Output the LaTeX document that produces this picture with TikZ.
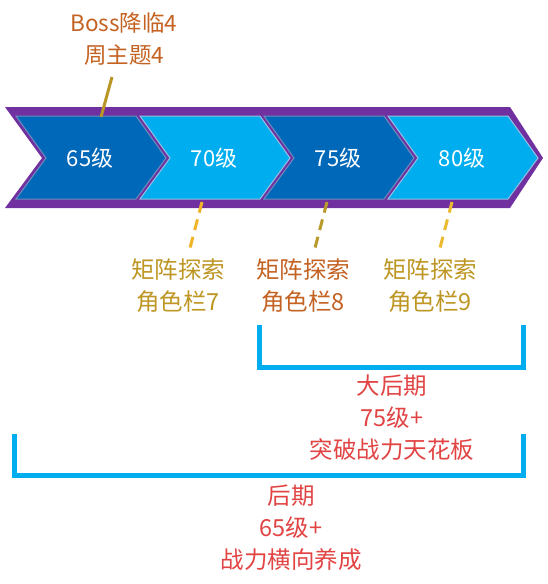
\documentclass[tikz,border=0pt]{standalone}
\usepackage{fontspec}
\setmainfont{Noto Sans CJK SC}
\definecolor{bandpurple}{RGB}{112,48,160}
\definecolor{chdark}{RGB}{0,104,184}
\definecolor{chdarkedge}{RGB}{110,140,190}
\definecolor{chlight}{RGB}{0,174,239}
\definecolor{chlightedge}{RGB}{150,190,225}
\definecolor{bossbrown}{RGB}{196,98,34}
\definecolor{goldtxt}{RGB}{190,150,35}
\definecolor{redtxt}{RGB}{226,68,68}
\definecolor{bossline}{RGB}{184,150,40}
\definecolor{dashA}{RGB}{240,180,40}
\definecolor{dashB}{RGB}{184,154,42}
\definecolor{dashC}{RGB}{236,186,48}
\definecolor{brblue}{RGB}{0,174,239}
\begin{document}
\begin{tikzpicture}[x=1pt,y=-1pt,
  every node/.style={inner sep=0pt,align=center,font=\fontsize{23.5}{32}\selectfont},
  chevdark/.style={fill=chdark,draw=chdarkedge,line width=1pt},
  chevlight/.style={fill=chlight,draw=chlightedge,line width=1pt},
  chevtext/.style={text=white,font=\fontsize{22}{32}\selectfont},
  bosscol/.style={text=bossbrown,font=\fontsize{22.5}{32}\selectfont},
  goldtext/.style={text=goldtxt},
  browntext/.style={text=bossbrown},
  redtext/.style={text=redtxt},
  dashline/.style={line width=3pt,dash pattern=on 11pt off 7pt},
  bracket/.style={draw=brblue,line width=5pt}]
\useasboundingbox (0,0) rectangle (548,584);
\fill[white] (0,0) rectangle (548,584);
% purple band
\fill[bandpurple] (5,107) -- (510,107) -- (543,158) -- (510,208) -- (5,208) -- (42,158) -- cycle;
% chevrons
\foreach \L/\st in {16/chevdark,140/chevlight,264/chevdark,388/chevlight}{
  \draw[\st] (\L,116) -- (\L+120,116) -- (\L+150,158) -- (\L+120,199) -- (\L,199) -- (\L+30,158) -- cycle;
}
\node[chevtext] (c65) at (90,158) {65级};
\node[chevtext] (c70) at (214,158) {70级};
\node[chevtext] (c75) at (338,158) {75级};
\node[chevtext] (c80) at (462,158) {80级};
% boss label
\node[bosscol] (boss) at (124,39) {Boss降临4\\周主题4};
\coordinate (bossA) at (112,77);
\coordinate (bossB) at (101,117);
\draw[bossline,line width=3pt] (bossA) -- (bossB);
% matrix labels
\node[goldtext] (m7) at (178,286) {矩阵探索\\角色栏7};
\node[browntext] (m8) at (303,286) {矩阵探索\\角色栏8};
\node[goldtext] (m9) at (430,286) {矩阵探索\\角色栏9};
\coordinate (d7a) at (202,202); \coordinate (d7b) at (190,248);
\coordinate (d8a) at (327,202); \coordinate (d8b) at (315,248);
\coordinate (d9a) at (452,202); \coordinate (d9b) at (440,248);
\draw[dashline,dashA] (d7a) -- (d7b);
\draw[dashline,dashB] (d8a) -- (d8b);
\draw[dashline,dashC] (d9a) -- (d9b);
% brackets
\coordinate (b1a) at (259,325); \coordinate (b1b) at (259,367);
\coordinate (b1c) at (523,367); \coordinate (b1d) at (523,325);
\draw[bracket] (b1a) -- (b1b) -- (b1c) -- (b1d);
\coordinate (b2a) at (14,434); \coordinate (b2b) at (14,475);
\coordinate (b2c) at (523,475); \coordinate (b2d) at (523,434);
\draw[bracket] (b2a) -- (b2b) -- (b2c) -- (b2d);
\node[redtext] (late2) at (392,418) {大后期\\75级+\\突破战力天花板};
\node[redtext] (late1) at (291,528) {后期\\65级+\\战力横向养成};
\end{tikzpicture}
\end{document}
